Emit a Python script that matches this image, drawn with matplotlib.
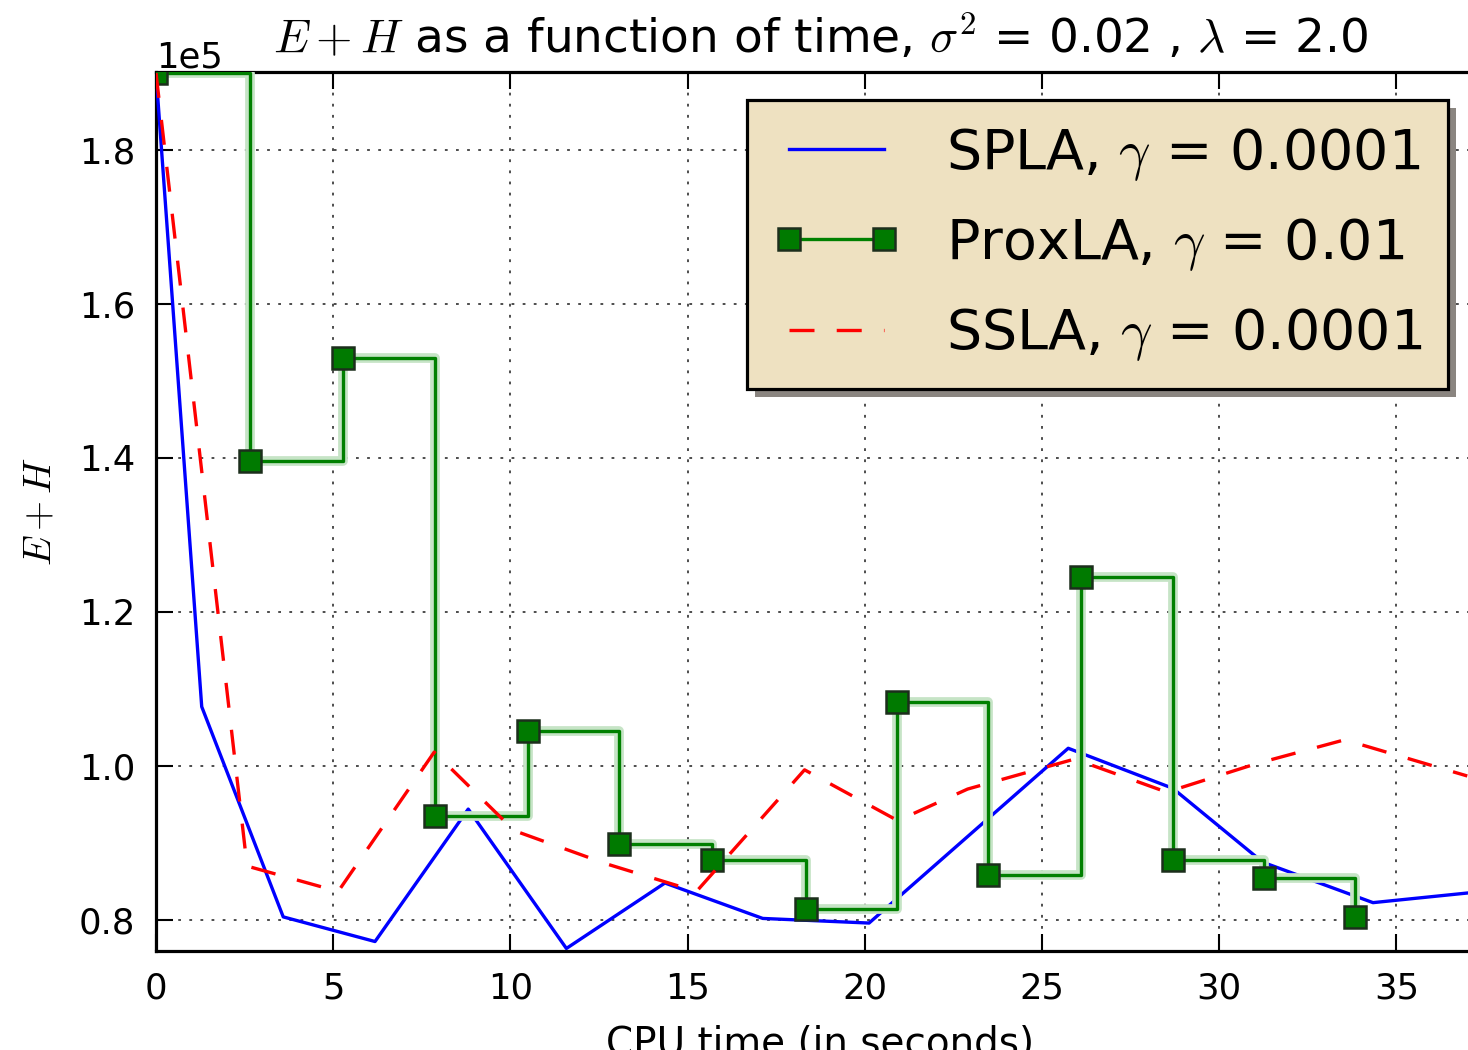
import matplotlib
matplotlib.use('Agg')
import matplotlib.pyplot as plt
from matplotlib.patches import Rectangle
from matplotlib.transforms import IdentityTransform
import numpy as np

plt.rcParams['font.family'] = ['DejaVu Sans']
plt.rcParams['mathtext.fontset'] = 'cm'
plt.rcParams['lines.scale_dashes'] = False

# ---- data (values in units of 1e5) ----
spla_t = [0.0, 1.29, 3.59, 6.18, 8.81, 11.58, 14.36, 17.12, 20.12, 25.74, 28.69, 31.23, 34.34, 37.0]
spla_v = [1.90, 1.077, 0.804, 0.772, 0.944, 0.763, 0.848, 0.802, 0.796, 1.023, 0.971, 0.875, 0.8225, 0.835]

prox_t = [0.0, 2.65, 5.27, 7.87, 10.49, 13.06, 15.68, 18.34, 20.90, 23.47, 26.09, 28.69, 31.26, 33.82]
prox_v = [1.90, 1.396, 1.530, 0.935, 1.0455, 0.899, 0.878, 0.814, 1.083, 0.858, 1.2455, 0.878, 0.855, 0.804]

ssla_t = [0.0, 2.57, 5.14, 7.85, 10.11, 12.7, 15.25, 18.3, 20.93, 22.9, 25.92, 28.52, 31.05, 33.54, 37.0]
ssla_v = [1.90, 0.870, 0.837, 1.018, 0.916, 0.873, 0.837, 0.995, 0.929, 0.970, 1.009, 0.966, 1.003, 1.034, 0.987]

scale = 1e5
labels = [r'SPLA, $\gamma$ = 0.0001', r'ProxLA, $\gamma$ = 0.01', r'SSLA, $\gamma$ = 0.0001']
xticks = [0, 5, 10, 15, 20, 25, 30, 35]
yticks = [0.8, 1.0, 1.2, 1.4, 1.6, 1.8]

W, H = 1468, 1050
fig = plt.figure(figsize=(W / 100, H / 100), dpi=100)
ax = fig.add_axes([156 / W, 1 - 951 / H, 1329 / W, (951 - 72) / H])

sv = np.array(spla_v) * scale
pv = np.array(prox_v) * scale
rv = np.array(ssla_v) * scale

l1, = ax.plot(spla_t, sv, color='#0000ff', lw=2.4, label=labels[0], zorder=3)
ax.plot(prox_t, pv, color='#c6e4c6', lw=7, drawstyle='steps-post', zorder=3.05, solid_capstyle='butt')
l2, = ax.plot(prox_t, pv, color='#008000', lw=2.4, drawstyle='steps-post', marker='s',
              markersize=15.5, markerfacecolor='#007a00', markeredgecolor='#1c2e1c',
              markeredgewidth=1.8, label=labels[1], zorder=3.1)
l3, = ax.plot(ssla_t, rv, color='#ff0000', lw=2.4, dashes=(18, 16), label=labels[2], zorder=3.2)

ax.set_xlim(0, 37.5)
ax.set_ylim(0.7597 * scale, 1.9013 * scale)
ax.set_xticks(xticks)
ax.set_yticks([v * scale for v in yticks])
ax.ticklabel_format(style='sci', axis='y', scilimits=(0, 0))

ax.tick_params(direction='in', length=12, width=1.5, top=True, right=True, labelsize=25.5, pad=15)
ax.yaxis.get_offset_text().set_fontsize(25.5)
for s in ax.spines.values():
    s.set_linewidth(2.3)

ax.grid(True, color='0.3', lw=1.4, linestyle=(0, (2, 6)))

ax.set_title(r'$E+H$ as a function of time, $\sigma^2$ = 0.02 , $\lambda$ = 2.0', fontsize=33.8, pad=14)
ax.set_ylabel(r'$E+H$', fontsize=28, labelpad=14)
ax.set_xlabel('CPU time (in seconds)', fontsize=28, labelpad=14)

leg = ax.legend(handles=[l1, l2, l3], loc='upper right',
                bbox_to_anchor=(1448 / W, 1 - 100 / H), bbox_transform=fig.transFigure,
                borderaxespad=0, fontsize=40, numpoints=2, handlelength=2.3,
                handletextpad=0.83, labelspacing=0.6, borderpad=0.46,
                fancybox=False, framealpha=1)
leg.get_frame().set_facecolor('#eee1c1')
leg.get_frame().set_edgecolor('black')
leg.get_frame().set_linewidth(2.3)
leg.set_zorder(6)

fig.canvas.draw()
bb = leg.get_frame().get_window_extent()
shadow = Rectangle((bb.x0 + 8, bb.y0 - 8), bb.width, bb.height, transform=IdentityTransform(),
                   facecolor='#8a8580', edgecolor='none', zorder=5.5, clip_on=False)
ax.add_artist(shadow)

fig.savefig('out.png', dpi=100)
